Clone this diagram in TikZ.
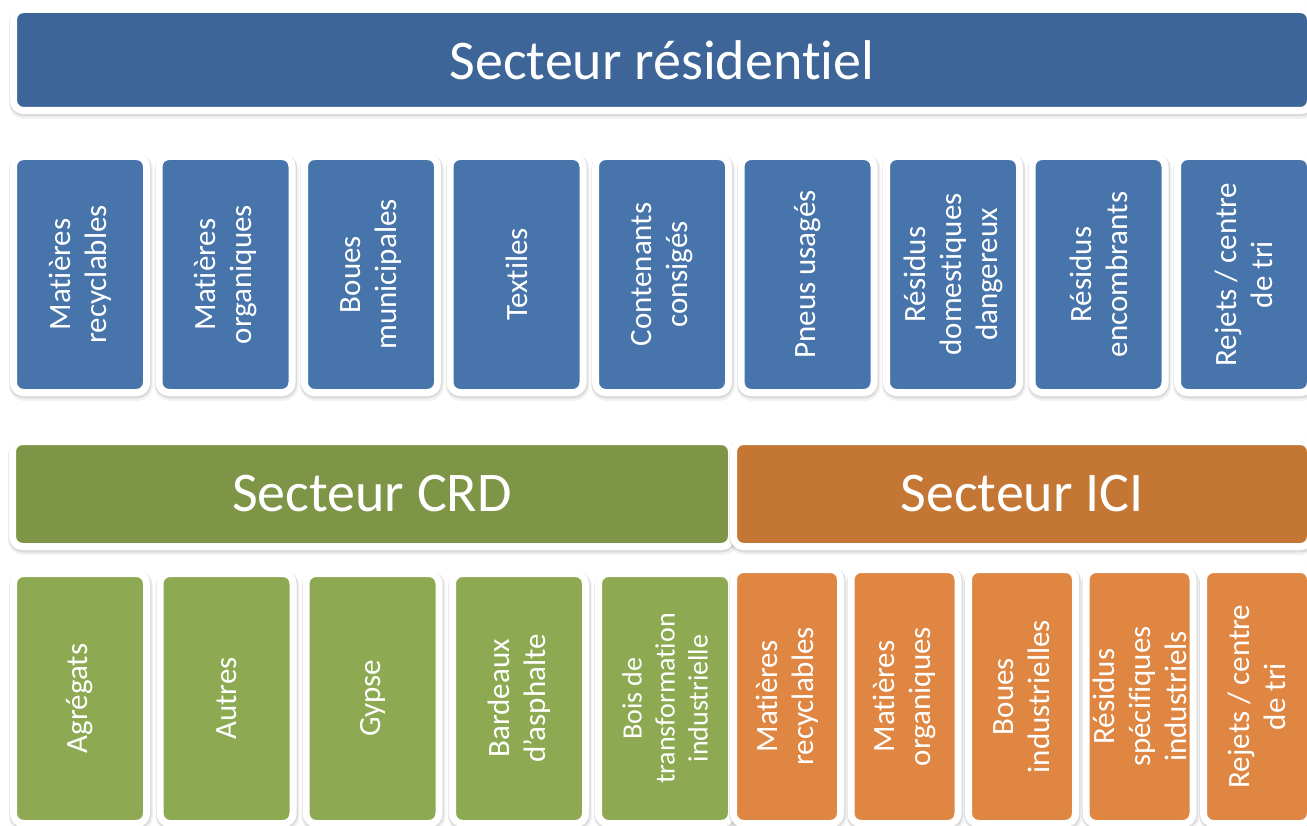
\documentclass[tikz,border=0pt]{standalone}
\usepackage{fontspec}
\setmainfont{Carlito}[Ligatures=NoCommon]
\usetikzlibrary{shadows}
\definecolor{resdark}{HTML}{3E6597}
\definecolor{resitem}{HTML}{4674AB}
\definecolor{crddark}{HTML}{7E9548}
\definecolor{crditem}{HTML}{8DA951}
\definecolor{icidark}{HTML}{C47734}
\definecolor{iciitem}{HTML}{DF8642}

\begin{document}
\begin{tikzpicture}[x=1pt,y=-1pt,sector node/.style={draw=white,line width=7pt,rounded corners=10pt,text=white,inner sep=0pt,font=\fontsize{56}{60}\selectfont,drop shadow={shadow xshift=1pt,shadow yshift=-3pt,fill=none,draw=black,line width=11pt,opacity=.05},drop shadow={shadow xshift=0.5pt,shadow yshift=-1.5pt,fill=none,draw=black,line width=9pt,opacity=.09}},item node/.style={sector node,rotate=90,align=center,font=\fontsize{31}{36}\selectfont}]
  \useasboundingbox (0,0) rectangle (1307,826);
  \clip (0,0) rectangle (1307,826);

  \node[sector node,fill=resdark,minimum width=1297pt,minimum height=101pt] (res) at (662,60) {Secteur résidentiel};

  \node[item node,fill=resitem,minimum width=236pt,minimum height=133pt] (r1) at (80,274.5) {Matières\\recyclables};
  \node[item node,fill=resitem,minimum width=236pt,minimum height=133pt] (r2) at (225.5,274.5) {Matières\\organiques};
  \node[item node,fill=resitem,minimum width=236pt,minimum height=133pt] (r3) at (371,274.5) {Boues\\municipales};
  \node[item node,fill=resitem,minimum width=236pt,minimum height=133pt] (r4) at (516.5,274.5) {Textiles};
  \node[item node,fill=resitem,minimum width=236pt,minimum height=133pt] (r5) at (662,274.5) {Contenants\\consigés};
  \node[item node,fill=resitem,minimum width=236pt,minimum height=133pt] (r6) at (807.5,274.5) {Pneus usagés};
  \node[item node,fill=resitem,minimum width=236pt,minimum height=133pt] (r7) at (953,274.5) {Résidus\\domestiques\\dangereux};
  \node[item node,fill=resitem,minimum width=236pt,minimum height=133pt] (r8) at (1098.5,274.5) {Résidus\\encombrants};
  \node[item node,fill=resitem,minimum width=236pt,minimum height=133pt] (r9) at (1244,274.5) {Rejets / centre\\de tri};

  \node[sector node,fill=crddark,minimum width=719pt,minimum height=105pt] (crd) at (372,494) {Secteur CRD};
  \node[sector node,fill=icidark,minimum width=577pt,minimum height=105pt] (ici) at (1022,494) {Secteur ICI};

  \node[item node,fill=crditem,minimum width=250pt,minimum height=133pt] (c1) at (80,698.5) {Agrégats};
  \node[item node,fill=crditem,minimum width=250pt,minimum height=133pt] (c2) at (226.5,698.5) {Autres};
  \node[item node,fill=crditem,minimum width=250pt,minimum height=133pt] (c3) at (372.5,698.5) {Gypse};
  \node[item node,fill=crditem,minimum width=250pt,minimum height=133pt] (c4) at (519,698.5) {Bardeaux\\d'asphalte};
  \node[item node,fill=crditem,minimum width=250pt,minimum height=133pt,font=\fontsize{28}{33}\selectfont] (c5) at (665,698.5) {Bois de\\transformation\\industrielle};

  \node[item node,fill=iciitem,minimum width=254pt,minimum height=107pt] (i1) at (787,696.5) {Matières\\recyclables};
  \node[item node,fill=iciitem,minimum width=254pt,minimum height=107pt] (i2) at (904.5,696.5) {Matières\\organiques};
  \node[item node,fill=iciitem,minimum width=254pt,minimum height=107pt] (i3) at (1022,696.5) {Boues\\industrielles};
  \node[item node,fill=iciitem,minimum width=254pt,minimum height=107pt] (i4) at (1139.5,696.5) {Résidus\\spécifiques\\industriels};
  \node[item node,fill=iciitem,minimum width=254pt,minimum height=107pt] (i5) at (1257,696.5) {Rejets / centre\\de tri};
\end{tikzpicture}
\end{document}
